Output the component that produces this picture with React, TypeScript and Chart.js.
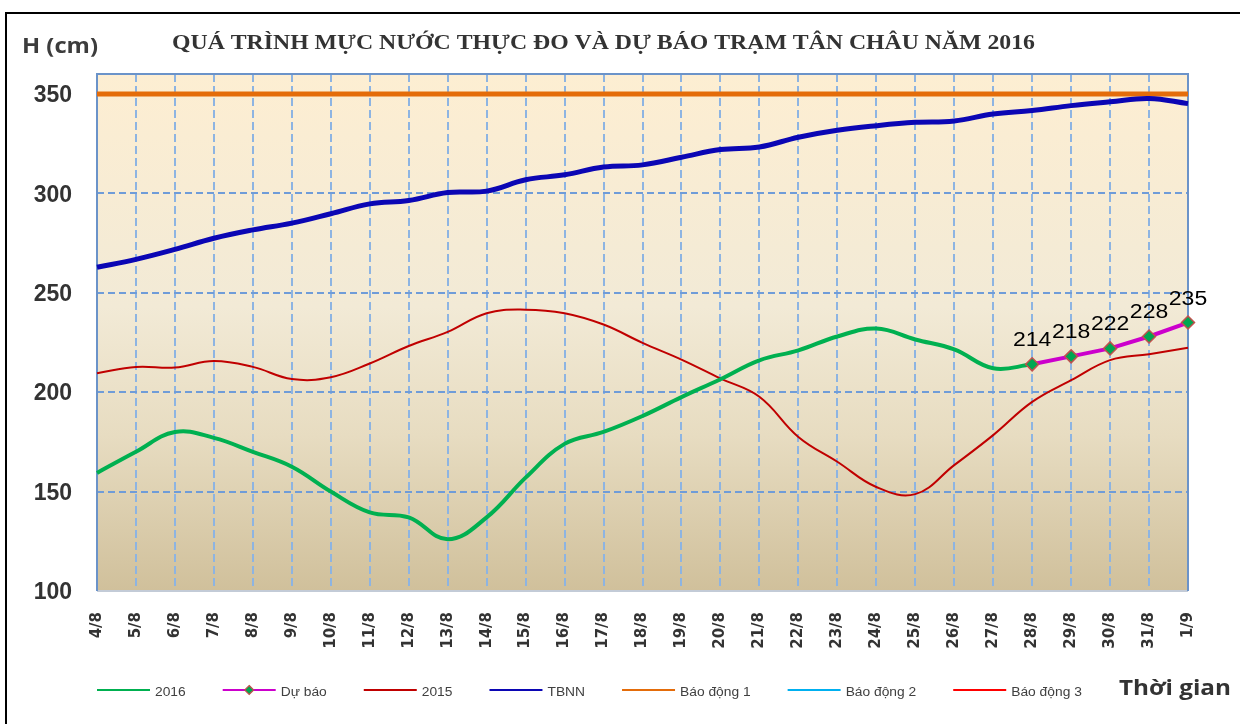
import React, { useEffect, useRef } from 'react';
import { Chart, registerables } from 'chart.js';

Chart.register(...registerables);

const labels = [
  '4/8', '5/8', '6/8', '7/8', '8/8', '9/8', '10/8', '11/8', '12/8', '13/8',
  '14/8', '15/8', '16/8', '17/8', '18/8', '19/8', '20/8', '21/8', '22/8', '23/8',
  '24/8', '25/8', '26/8', '27/8', '28/8', '29/8', '30/8', '31/8', '1/9',
];

const series2016 = [
  159.4, 170, 180, 177, 170, 162.5, 150, 139.5, 137, 126,
  137, 157, 174, 180, 188, 197.5, 206.5, 216, 221, 228,
  232, 226.5, 221.5, 212, 214, null, null, null, null,
];

const forecast = [
  null, null, null, null, null, null, null, null, null, null,
  null, null, null, null, null, null, null, null, null, null,
  null, null, null, null, 214, 218, 222, 228, 235,
];

const series2015 = [
  209.5, 212.7, 212.4, 215.7, 212.7, 206.6, 207.5, 214.4, 223.2, 230.3,
  239.7, 241.5, 239.7, 234, 224.8, 216.4, 206.9, 197.7, 177.5, 165,
  152.3, 148.7, 163.3, 178.4, 195.1, 206, 216.1, 219.1, 222.3,
];

const tbnn = [
  262.8, 266.8, 271.8, 277.4, 281.6, 285, 289.7, 294.7, 296.4, 300.4,
  301.1, 306.8, 309.3, 313.2, 314.3, 318.1, 322, 323.3, 328.2, 331.7,
  334, 335.7, 336.4, 339.9, 341.6, 344.1, 346, 347.7, 345.1,
];

const alarm1 = [
  350, 350, 350, 350, 350, 350, 350, 350, 350, 350,
  350, 350, 350, 350, 350, 350, 350, 350, 350, 350,
  350, 350, 350, 350, 350, 350, 350, 350, 350,
];
const alarm2 = [
  400, 400, 400, 400, 400, 400, 400, 400, 400, 400,
  400, 400, 400, 400, 400, 400, 400, 400, 400, 400,
  400, 400, 400, 400, 400, 400, 400, 400, 400,
];
const alarm3 = [
  450, 450, 450, 450, 450, 450, 450, 450, 450, 450,
  450, 450, 450, 450, 450, 450, 450, 450, 450, 450,
  450, 450, 450, 450, 450, 450, 450, 450, 450,
];

const yTicks = [100, 150, 200, 250, 300, 350];

const TITLE = 'QUÁ TRÌNH MỰC NƯỚC THỰC ĐO VÀ DỰ BÁO TRẠM TÂN CHÂU NĂM 2016';
const Y_TITLE = 'H (cm)';
const X_TITLE = 'Thời gian';

const W = 1240;
const H = 724;

function drawScaledText(ctx: CanvasRenderingContext2D, text: string, font: string, color: string,
  x: number, y: number, align: string, sx: number) {
  ctx.save();
  ctx.font = font;
  ctx.fillStyle = color;
  ctx.textBaseline = 'alphabetic';
  ctx.textAlign = 'left';
  const w = ctx.measureText(text).width * sx;
  const left = align === 'center' ? x - w / 2 : align === 'right' ? x - w : x;
  ctx.translate(left, y);
  ctx.scale(sx, 1);
  ctx.fillText(text, 0, 0);
  ctx.restore();
  return w;
}

function drawWidthText(ctx: CanvasRenderingContext2D, text: string, font: string, color: string,
  x: number, y: number, width: number) {
  ctx.save();
  ctx.font = font;
  const m = ctx.measureText(text).width;
  ctx.restore();
  drawScaledText(ctx, text, font, color, x, y, 'left', width / m);
}

function diamond(ctx: CanvasRenderingContext2D, x: number, y: number, r: number, fill: string, stroke: string) {
  ctx.save();
  ctx.beginPath();
  ctx.moveTo(x, y - r);
  ctx.lineTo(x + r, y);
  ctx.lineTo(x, y + r);
  ctx.lineTo(x - r, y);
  ctx.closePath();
  ctx.fillStyle = fill;
  ctx.fill();
  ctx.lineWidth = 1.2;
  ctx.strokeStyle = stroke;
  ctx.stroke();
  ctx.restore();
}

const decorPlugin = {
  id: 'decor',
  beforeDraw(chart: any) {
    const { ctx, chartArea: a } = chart;
    ctx.save();
    ctx.fillStyle = '#ffffff';
    ctx.fillRect(0, 0, chart.width, chart.height);
    // outer black frame
    ctx.strokeStyle = '#000000';
    ctx.lineWidth = 2;
    ctx.beginPath();
    ctx.moveTo(6, H + 2);
    ctx.lineTo(6, 13);
    ctx.lineTo(W + 2, 13);
    ctx.stroke();
    // plot background gradient
    const g = ctx.createLinearGradient(0, a.top, 0, a.bottom);
    g.addColorStop(0, '#fdeed2');
    g.addColorStop(0.45, '#f2ead6');
    g.addColorStop(0.7, '#e7dcc1');
    g.addColorStop(1, '#d0c09b');
    ctx.fillStyle = g;
    ctx.fillRect(a.left, a.top, a.right - a.left, a.bottom - a.top);
    ctx.restore();
  },
  beforeDatasetsDraw(chart: any) {
    const { ctx, chartArea: a } = chart;
    ctx.save();
    ctx.lineWidth = 2;
    ctx.strokeStyle = '#c3cbd7';
    ctx.beginPath();
    ctx.moveTo(a.left, a.bottom);
    ctx.lineTo(a.right, a.bottom);
    ctx.stroke();
    ctx.strokeStyle = '#6b93c9';
    ctx.beginPath();
    ctx.moveTo(a.left, a.bottom);
    ctx.lineTo(a.left, a.top);
    ctx.lineTo(a.right, a.top);
    ctx.lineTo(a.right, a.bottom);
    ctx.stroke();
    ctx.restore();
  },
  afterDraw(chart: any) {
    const { ctx } = chart;
    // titles
    drawWidthText(ctx, TITLE, 'bold 20px "Liberation Serif"', '#333333', 172, 49, 863);
    drawWidthText(ctx, Y_TITLE, 'bold 22px "Open Sans"', '#3c3c3c', 22, 53, 76);
    drawWidthText(ctx, X_TITLE, 'bold 22px "Open Sans"', '#333333', 1119, 695, 112);

    // data labels for forecast
    const fIdx = chart.data.datasets.findIndex((d: any) => d.label === 'Dự báo');
    const meta = chart.getDatasetMeta(fIdx);
    meta.data.forEach((pt: any, i: number) => {
      const v = forecast[i];
      if (v === null || v === undefined) return;
      drawScaledText(ctx, String(v), '20px "Liberation Sans"', '#000000', pt.x, pt.y - 18, 'center', 1.15);
    });

    // legend
    let x = 97;
    const ly = 690;
    chart.data.datasets.forEach((ds: any) => {
      ctx.save();
      ctx.strokeStyle = ds.legendColor || ds.borderColor;
      ctx.lineWidth = 2;
      ctx.beginPath();
      ctx.moveTo(x, ly);
      ctx.lineTo(x + 53, ly);
      ctx.stroke();
      ctx.restore();
      if (ds.label === 'Dự báo') {
        diamond(ctx, x + 26.5, ly, 4.5, ds.pointBackgroundColor, ds.pointBorderColor);
      }
      const tw = drawScaledText(ctx, ds.label, '12px "Liberation Sans"', '#404040', x + 58, ly + 6, 'left', 1.15);
      x = x + 58 + tw + 37;
    });
  },
};

export default function App() {
  const ref = useRef<HTMLCanvasElement | null>(null);

  useEffect(() => {
    document.body.style.margin = '0';
    const canvas = ref.current;
    if (!canvas) return;
    const chart = new Chart(canvas, {
      type: 'line',
      data: {
        labels,
        datasets: [
          {
            label: '2016', data: series2016, borderColor: '#00b050', borderWidth: 4,
            pointRadius: 0, tension: 0.4, spanGaps: false, order: 2,
          },
          {
            label: 'Dự báo', data: forecast, borderColor: '#cc00cc', borderWidth: 4,
            pointStyle: 'rectRot', pointRadius: 6.5, pointBackgroundColor: '#00a651',
            pointBorderColor: '#c0504d', pointBorderWidth: 1.5, tension: 0, clip: false, order: 1,
            legendColor: '#cc00cc',
          } as any,
          {
            label: '2015', data: series2015, borderColor: '#c00000', borderWidth: 2,
            pointRadius: 0, tension: 0.4, order: 3,
          },
          {
            label: 'TBNN', data: tbnn, borderColor: '#0b06b4', borderWidth: 5,
            pointRadius: 0, tension: 0.4, order: 4,
          },
          {
            label: 'Báo động 1', data: alarm1, borderColor: '#e46c0a', borderWidth: 5,
            pointRadius: 0, tension: 0, order: 5,
          },
          {
            label: 'Báo động 2', data: alarm2, borderColor: '#00b0f0', borderWidth: 3,
            pointRadius: 0, tension: 0, order: 6,
          },
          {
            label: 'Báo động 3', data: alarm3, borderColor: '#ff0000', borderWidth: 3,
            pointRadius: 0, tension: 0, order: 7,
          },
        ],
      },
      options: {
        responsive: false,
        animation: false,
        devicePixelRatio: 1,
        events: [],
        layout: { padding: { left: 0, top: 74, right: 52, bottom: 0 } },
        plugins: {
          legend: { display: false },
          title: { display: false },
          tooltip: { enabled: false },
        },
        scales: {
          x: {
            type: 'category',
            offset: false,
            grid: {
              drawTicks: false,
              lineWidth: 2,
              color: '#8db4e2',
            },
            border: { display: false, dash: [8, 4] },
            ticks: {
              autoSkip: false,
              minRotation: 90,
              maxRotation: 90,
              padding: 21,
              color: '#333333',
              font: { family: '"DejaVu Sans"', weight: 'bold', size: 15 },
            },
            afterFit(scale: any) { scale.height = 133; },
          },
          y: {
            type: 'linear',
            min: 100,
            max: 360,
            grid: {
              drawTicks: false,
              lineWidth: 2,
              color: (c: any) => (c.tick && (c.tick.value === 100 || c.tick.value === 350) ? 'rgba(0,0,0,0)' : '#6f9cd8'),
            },
            border: { display: false, dash: [7, 4] },
            ticks: {
              stepSize: 50,
              padding: 25,
              labelOffset: 2,
              color: '#333333',
              font: { family: '"Liberation Sans"', weight: 'bold', size: 23 },
            },
            afterBuildTicks(scale: any) {
              scale.ticks = yTicks.map((v) => ({ value: v }));
            },
            afterFit(scale: any) { scale.width = 97; },
          },
        },
      },
      plugins: [decorPlugin],
    } as any);
    return () => chart.destroy();
  }, []);

  return (
    <div style={{ width: W, height: H, position: 'relative', background: '#fff' }}>
      <canvas ref={ref} width={W} height={H} style={{ display: 'block', width: W, height: H }} />
    </div>
  );
}
